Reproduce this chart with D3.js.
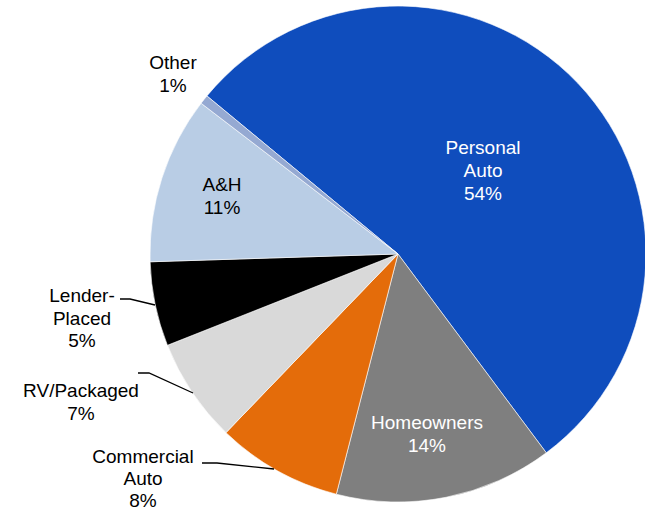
<!DOCTYPE html>
<html>
<head>
<meta charset="utf-8">
<script src="https://cdn.jsdelivr.net/npm/d3@7"></script>
<style>
  html, body { margin: 0; padding: 0; background: #fff; }
  svg { display: block; }
  text { font-family: "Liberation Sans", Arial, sans-serif; font-size: 19px; }
</style>
</head>
<body>
<svg id="chart" width="645" height="513"></svg>
<script>
// ---- data ----
const categories = ["Personal Auto", "Homeowners", "Commercial Auto", "RV/Packaged", "Lender-Placed", "A&H", "Other"];
const shares = [53.8, 14.2, 8.2, 6.8, 5.5, 10.9, 0.6];
const labelLines = [
  ["Personal", "Auto", "54%"],
  ["Homeowners", "14%"],
  ["Commercial", "Auto", "8%"],
  ["RV/Packaged", "7%"],
  ["Lender-", "Placed", "5%"],
  ["A&H", "11%"],
  ["Other", "1%"]
];
const colors = ["#0f4dbd", "#7f7f7f", "#e46c0a", "#d9d9d9", "#000000", "#b9cde5", "#95a9d2"];

// ---- layout ----
const cx = 398, cy = 254, R = 248;
// label anchor (x center, first baseline), text color, optional leader polyline
const labelLayout = [
  { x: 483, y: 154, fill: "#fff", lh: 23 },
  { x: 427, y: 429, fill: "#fff", lh: 23 },
  { x: 143, y: 463, fill: "#000", lh: 22, leader: [[202, 463], [217, 463], [274, 469]] },
  { x: 81,  y: 397, fill: "#000", lh: 23, leader: [[138, 373], [149, 373], [193, 393]] },
  { x: 82,  y: 302, fill: "#000", lh: 22.5, leader: [[120, 299], [130, 299], [155, 305]] },
  { x: 222, y: 191, fill: "#000", lh: 23 },
  { x: 173, y: 69,  fill: "#000", lh: 23 }
];

const svg = d3.select("#chart");
const g = svg.append("g").attr("transform", `translate(${cx},${cy})`);

const startA = -50.4 * Math.PI / 180;
const pie = d3.pie().sort(null).value(d => d)
  .startAngle(startA).endAngle(startA + 2 * Math.PI);
const arc = d3.arc().innerRadius(0).outerRadius(R);

g.selectAll("path.slice")
  .data(pie(shares))
  .join("path")
  .attr("class", "slice")
  .attr("d", arc)
  .attr("fill", (d, i) => colors[i])
  .attr("stroke", "#ffffff")
  .attr("stroke-width", 0.6)
  .attr("stroke-linejoin", "round");

// leader lines
const line = d3.line();
labelLayout.forEach((L) => {
  if (L.leader) {
    svg.append("path")
      .attr("d", line(L.leader))
      .attr("fill", "none")
      .attr("stroke", "#000")
      .attr("stroke-width", 1.3);
  }
});

// labels
labelLayout.forEach((L, i) => {
  const t = svg.append("text")
    .attr("text-anchor", "middle")
    .attr("fill", L.fill);
  labelLines[i].forEach((s, k) => {
    t.append("tspan").attr("x", L.x).attr("y", L.y + k * L.lh).text(s);
  });
});
</script>
</body>
</html>
